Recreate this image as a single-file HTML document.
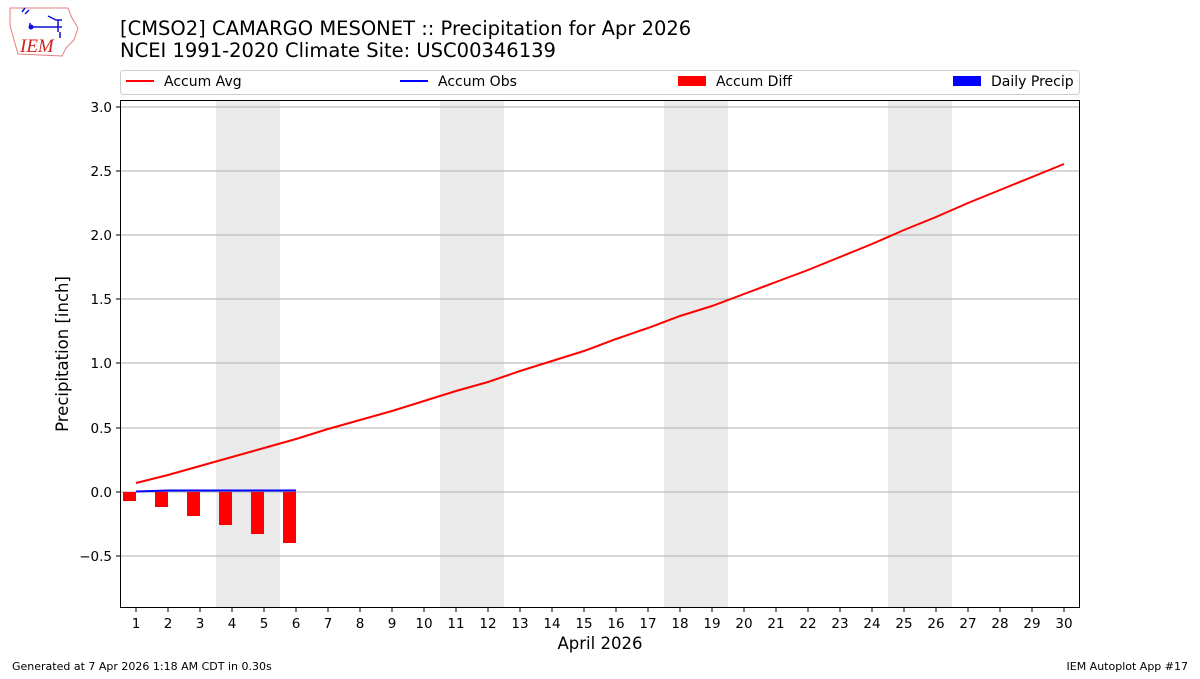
<!DOCTYPE html>
<html><head><meta charset="utf-8"><style>
body{margin:0;background:#fff;font-family:"DejaVu Sans","Liberation Sans",sans-serif;}
</style></head><body>
<svg width="1200" height="675" xmlns="http://www.w3.org/2000/svg" font-family="DejaVu Sans, Liberation Sans, sans-serif">
<rect width="1200" height="675" fill="#fff"/>
<path d="M10,8 L68,8 L72,18 L78,28 L74,40 L66,48 L62,56 L18,54 L14,40 L10,25 Z" fill="none" stroke="#e08080" stroke-width="1"/>
<path d="M22,12 l3,-4 M25,14 l4,-4 M30,27 L62,27 M30,27 l0,-4 M48,16 l8,4 l6,0 M58,20 l0,12 M60,32 l0,6" stroke="#1010d0" stroke-width="1.5" fill="none"/>
<circle cx="31" cy="27" r="2.5" fill="#1010d0"/>
<text x="20" y="52" font-family="Liberation Serif, serif" font-style="italic" font-size="19" fill="#d02020">IEM</text>
<text x="120" y="35" font-size="19.5" fill="#000">[CMSO2] CAMARGO MESONET :: Precipitation for Apr 2026</text>
<text x="120" y="57" font-size="19.5" fill="#000">NCEI 1991-2020 Climate Site: USC00346139</text>
<rect x="120.5" y="70.5" width="959" height="24" rx="3" fill="#fff" stroke="#ccc"/>
<line x1="126" y1="81" x2="154" y2="81" stroke="red" stroke-width="2"/>
<text x="164" y="86" font-size="14">Accum Avg</text>
<line x1="400" y1="81" x2="428" y2="81" stroke="blue" stroke-width="2"/>
<text x="438" y="86" font-size="14">Accum Obs</text>
<rect x="678" y="76" width="28" height="10" fill="red"/>
<text x="716" y="86" font-size="14">Accum Diff</text>
<rect x="953" y="76" width="28" height="10" fill="blue"/>
<text x="991" y="86" font-size="14">Daily Precip</text>
<g fill="#ebebeb">
<rect x="216" y="100" width="64" height="508"/>
<rect x="440" y="100" width="64" height="508"/>
<rect x="664" y="100" width="64" height="508"/>
<rect x="888" y="100" width="64" height="508"/>
</g>
<g stroke="#b0b0b0" stroke-width="1">
<line x1="120" y1="107" x2="1080" y2="107"/>
<line x1="120" y1="171" x2="1080" y2="171"/>
<line x1="120" y1="235" x2="1080" y2="235"/>
<line x1="120" y1="299" x2="1080" y2="299"/>
<line x1="120" y1="363" x2="1080" y2="363"/>
<line x1="120" y1="428" x2="1080" y2="428"/>
<line x1="120" y1="492" x2="1080" y2="492"/>
<line x1="120" y1="556" x2="1080" y2="556"/>
</g>
<g fill="red">
<rect x="123" y="492" width="13" height="9"/>
<rect x="155" y="492" width="13" height="15"/>
<rect x="187" y="492" width="13" height="24"/>
<rect x="219" y="492" width="13" height="33"/>
<rect x="251" y="492" width="13" height="42"/>
<rect x="283" y="492" width="13" height="51"/>
</g>
<polyline fill="none" stroke="blue" stroke-width="2" points="136,491.5 168,490.5 200,490.5 232,490.5 264,490.5 296,490.5"/>
<polyline fill="none" stroke="red" stroke-width="2" points="136,483 168,475 200,466 232,457 264,448 296,439 328,429 360,420 392,411 424,401 456,391 488,382 520,371 552,361 584,351 616,339 648,328 680,316 712,306 744,294 776,282 808,270 840,257 872,244 904,230 936,217 968,203 1000,190 1032,177 1064,164"/>
<rect x="120.5" y="100.5" width="959" height="507" fill="none" stroke="#000" stroke-width="1"/>
<g font-size="13.5" text-anchor="end">
<g stroke="#000"><line x1="116" y1="107" x2="120" y2="107"/><line x1="116" y1="171" x2="120" y2="171"/><line x1="116" y1="235" x2="120" y2="235"/><line x1="116" y1="299" x2="120" y2="299"/><line x1="116" y1="363" x2="120" y2="363"/><line x1="116" y1="428" x2="120" y2="428"/><line x1="116" y1="492" x2="120" y2="492"/><line x1="116" y1="556" x2="120" y2="556"/></g>
<text x="112" y="112">3.0</text><text x="112" y="176">2.5</text><text x="112" y="240">2.0</text><text x="112" y="304">1.5</text><text x="112" y="368">1.0</text><text x="112" y="433">0.5</text><text x="112" y="497">0.0</text><text x="112" y="561">−0.5</text>
</g>
<text transform="translate(68,354) rotate(-90)" font-size="16.5" text-anchor="middle">Precipitation [inch]</text>
<text x="600" y="649" font-size="16.5" text-anchor="middle">April 2026</text>
<text x="12" y="670" font-size="11">Generated at 7 Apr 2026 1:18 AM CDT in 0.30s</text>
<text x="1188" y="670" font-size="11" text-anchor="end">IEM Autoplot App #17</text>
<g font-size="13.5" text-anchor="middle">
<text x="136" y="628">1</text><text x="168" y="628">2</text><text x="200" y="628">3</text><text x="232" y="628">4</text><text x="264" y="628">5</text><text x="296" y="628">6</text><text x="328" y="628">7</text><text x="360" y="628">8</text><text x="392" y="628">9</text><text x="424" y="628">10</text><text x="456" y="628">11</text><text x="488" y="628">12</text><text x="520" y="628">13</text><text x="552" y="628">14</text><text x="584" y="628">15</text><text x="616" y="628">16</text><text x="648" y="628">17</text><text x="680" y="628">18</text><text x="712" y="628">19</text><text x="744" y="628">20</text><text x="776" y="628">21</text><text x="808" y="628">22</text><text x="840" y="628">23</text><text x="872" y="628">24</text><text x="904" y="628">25</text><text x="936" y="628">26</text><text x="968" y="628">27</text><text x="1000" y="628">28</text><text x="1032" y="628">29</text><text x="1064" y="628">30</text>
</g>
<g stroke="#000">
<line x1="136" y1="608" x2="136" y2="612"/><line x1="168" y1="608" x2="168" y2="612"/><line x1="200" y1="608" x2="200" y2="612"/><line x1="232" y1="608" x2="232" y2="612"/><line x1="264" y1="608" x2="264" y2="612"/><line x1="296" y1="608" x2="296" y2="612"/><line x1="328" y1="608" x2="328" y2="612"/><line x1="360" y1="608" x2="360" y2="612"/><line x1="392" y1="608" x2="392" y2="612"/><line x1="424" y1="608" x2="424" y2="612"/><line x1="456" y1="608" x2="456" y2="612"/><line x1="488" y1="608" x2="488" y2="612"/><line x1="520" y1="608" x2="520" y2="612"/><line x1="552" y1="608" x2="552" y2="612"/><line x1="584" y1="608" x2="584" y2="612"/><line x1="616" y1="608" x2="616" y2="612"/><line x1="648" y1="608" x2="648" y2="612"/><line x1="680" y1="608" x2="680" y2="612"/><line x1="712" y1="608" x2="712" y2="612"/><line x1="744" y1="608" x2="744" y2="612"/><line x1="776" y1="608" x2="776" y2="612"/><line x1="808" y1="608" x2="808" y2="612"/><line x1="840" y1="608" x2="840" y2="612"/><line x1="872" y1="608" x2="872" y2="612"/><line x1="904" y1="608" x2="904" y2="612"/><line x1="936" y1="608" x2="936" y2="612"/><line x1="968" y1="608" x2="968" y2="612"/><line x1="1000" y1="608" x2="1000" y2="612"/><line x1="1032" y1="608" x2="1032" y2="612"/><line x1="1064" y1="608" x2="1064" y2="612"/>
</g>
</svg>
</body></html>
